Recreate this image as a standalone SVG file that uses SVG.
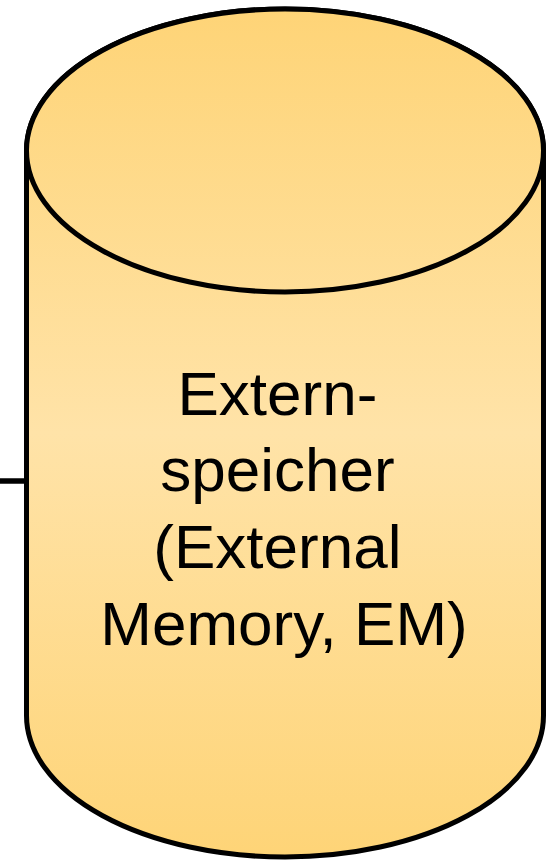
<svg xmlns="http://www.w3.org/2000/svg" width="548" height="861" viewBox="0 0 548 861">
  <defs>
    <linearGradient id="fillGrad" gradientUnits="userSpaceOnUse" x1="0" y1="9" x2="0" y2="857">
      <stop offset="0" stop-color="#FED477"/>
      <stop offset="0.5" stop-color="#FFE3A8"/>
      <stop offset="1" stop-color="#FED477"/>
    </linearGradient>
  </defs>
  <style>
    .shape { fill: url(#fillGrad); stroke: #000; stroke-width: 5; }
    .conn { stroke: #000; stroke-width: 5.5; fill: none; }
    .label { font-family: "Liberation Sans", Arial, sans-serif; font-size: 62px; fill: #000; text-anchor: middle; }
  </style>
  <g id="connectors">
    <line class="conn" x1="0" y1="481" x2="26.5" y2="481"/>
  </g>
  <g id="external-memory">
    <path class="shape" d="M 26.5 150.5 L 26.5 715.5 A 258.5 141.5 0 0 0 543.5 715.5 L 543.5 150.5 A 258.5 141.5 0 0 0 26.5 150.5 Z"/>
    <ellipse class="shape" cx="285" cy="150.5" rx="258.5" ry="141.5"/>
    <text class="label">
      <tspan x="286" y="414.5">Extern-</tspan>
      <tspan x="286" y="491.2">speicher</tspan>
      <tspan x="286" y="567.9">(External</tspan>
      <tspan x="284" y="644.6">Memory, EM)</tspan>
    </text>
  </g>
</svg>
